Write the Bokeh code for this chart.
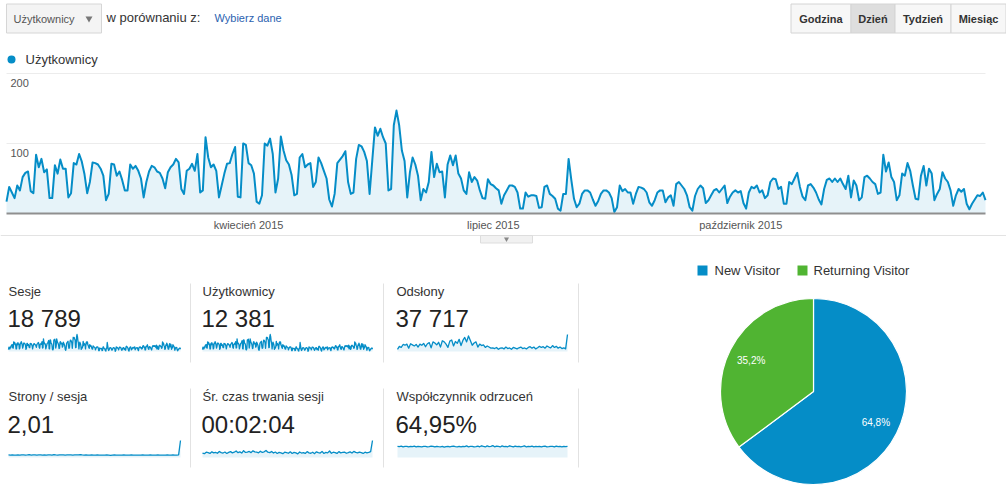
import math
import pandas as pd
from bokeh.plotting import figure
from bokeh.models import Range1d
from bokeh.core.properties import value
from bokeh.embed import file_html
from bokeh.resources import INLINE

# ---------------- data ----------------
start_date = "2015-01-01"
users = [
    17, 38, 30, 22, 40, 33, 52, 58, 60, 32,
    29, 84, 66, 78, 59, 63, 22, 22, 69, 57,
    77, 64, 64, 23, 29, 72, 70, 85, 74, 56,
    29, 45, 73, 72, 70, 64, 54, 19, 28, 71,
    70, 54, 60, 48, 33, 33, 70, 64, 68, 61,
    50, 23, 45, 60, 68, 66, 60, 58, 50, 36,
    59, 66, 70, 78, 73, 35, 28, 61, 64, 71,
    61, 85, 30, 33, 109, 80, 66, 70, 61, 23,
    40, 57, 71, 72, 85, 95, 24, 23, 100, 98,
    72, 69, 57, 17, 14, 26, 100, 97, 107, 85,
    30, 50, 110, 90, 76, 70, 55, 26, 28, 80,
    85, 66, 70, 72, 38, 45, 80, 72, 61, 50,
    20, 10, 28, 72, 77, 82, 89, 45, 28, 30,
    78, 98, 96, 88, 75, 28, 76, 123, 111, 121,
    109, 100, 33, 35, 126, 147, 126, 90, 75, 23,
    59, 80, 70, 54, 19, 35, 30, 45, 88, 52,
    71, 59, 60, 23, 70, 83, 69, 83, 57, 50,
    33, 28, 59, 45, 52, 47, 33, 22, 21, 49,
    42, 40, 36, 33, 14, 26, 33, 40, 40, 38,
    30, 7, 7, 30, 24, 26, 26, 25, 8, 9,
    38, 40, 28, 25, 21, 7, 4, 28, 28, 78,
    48, 21, 9, 14, 28, 33, 33, 30, 20, 11,
    18, 28, 33, 33, 30, 22, 2, 9, 40, 32,
    35, 30, 30, 14, 28, 38, 37, 35, 30, 16,
    11, 19, 30, 33, 33, 16, 23, 26, 11, 42,
    45, 40, 35, 26, 9, 4, 25, 35, 40, 36,
    15, 19, 26, 33, 35, 30, 35, 40, 15, 24,
    30, 33, 30, 32, 15, 7, 30, 38, 36, 40,
    30, 33, 22, 26, 45, 50, 49, 35, 38, 14,
    14, 45, 42, 50, 58, 38, 24, 19, 40, 42,
    37, 30, 20, 13, 35, 48, 50, 45, 50, 45,
    50, 42, 35, 54, 23, 47, 40, 19, 23, 52,
    54, 50, 45, 42, 28, 30, 84, 60, 73, 52,
    45, 19, 26, 57, 54, 72, 61, 40, 21, 20,
    54, 68, 40, 64, 57, 19, 28, 35, 59, 50,
    45, 33, 11, 26, 35, 31, 35, 14, 6, 14,
    20, 26, 25, 30, 19,
]
month_ticks = ["2015-04-01", "2015-07-01", "2015-10-01"]
month_labels = ["kwiecień 2015", "lipiec 2015", "październik 2015"]
y_ticks = [100, 200]
y_tick_labels = ["100", "200"]

card_titles = ["Sesje", "Użytkownicy", "Odsłony",
               "Strony / sesja", "Śr. czas trwania sesji", "Współczynnik odrzuceń"]
card_values = ["18 789", "12 381", "37 717", "2,01", "00:02:04", "64,95%"]

pageviews = [60, 140, 110, 190, 170, 200, 90, 210, 180, 150, 190, 120, 200, 170, 220, 130,
             210, 240, 100, 260, 230, 180, 250, 120, 290, 260, 200, 110, 280, 310, 150, 270,
             220, 330, 160, 300, 380, 260, 420, 300, 170, 230, 260, 120, 200, 160, 180, 110,
             150, 120, 90, 100, 80, 110, 60, 90, 100, 70, 120, 80, 95, 60, 110, 90, 70, 100,
             120, 80, 95, 70, 110, 130, 90, 120, 70, 100, 140, 110, 130, 90, 150, 120, 100,
             160, 110, 140, 90, 120, 80, 100, 70, 460]
pages_per_session = [2.1, 2.0, 2.2, 2.0, 1.9, 2.1, 2.0, 2.2, 2.1, 2.0, 2.1, 2.3, 2.0, 2.1, 2.2,
                     2.0, 2.1, 2.2, 2.0, 2.1, 2.0, 2.2, 2.1, 2.0, 2.3, 2.1, 2.0, 2.2, 2.1, 2.2,
                     2.0, 2.1, 2.2, 2.1, 2.0, 2.1, 2.2, 2.1, 2.3, 2.1, 2.0, 2.1, 1.9, 2.0, 2.1,
                     1.9, 2.0, 2.1, 1.9, 2.0, 2.0, 1.9, 2.1, 2.0, 1.8, 2.0, 2.1, 1.9, 2.0, 1.9,
                     2.0, 2.1, 1.9, 2.0, 1.9, 2.1, 2.0, 1.9, 2.0, 2.0, 1.9, 2.1, 2.0, 1.9, 2.0,
                     2.1, 2.0, 1.9, 2.0, 2.1, 2.0, 1.9, 2.0, 2.0, 2.1, 1.9, 2.0, 2.1, 2.0, 1.9,
                     2.2, 14.0]
session_duration = [110, 95, 130, 120, 100, 140, 115, 125, 105, 150, 120, 110, 135, 100, 125,
                    145, 115, 130, 160, 120, 140, 110, 170, 125, 135, 150, 120, 165, 140, 130,
                    115, 155, 125, 140, 175, 130, 120, 150, 110, 135, 100, 125, 115, 95, 130,
                    120, 105, 140, 100, 125, 115, 90, 135, 110, 120, 100, 145, 115, 105, 130,
                    95, 140, 120, 110, 150, 100, 125, 115, 160, 105, 130, 120, 100, 145, 115,
                    125, 135, 105, 120, 140, 110, 150, 125, 115, 135, 120, 100, 130, 115, 125,
                    145, 420]
bounce_rate = [66, 64, 67, 63, 65, 66, 62, 65, 64, 67, 63, 66, 64, 62, 65, 66, 63, 64, 67, 65,
               62, 66, 64, 63, 65, 61, 64, 66, 63, 65, 67, 64, 62, 65, 63, 66, 64, 68, 63, 65,
               66, 62, 64, 67, 63, 69, 65, 62, 68, 64, 66, 70, 63, 67, 65, 62, 68, 64, 66, 63,
               69, 65, 62, 67, 64, 66, 63, 65, 68, 62, 66, 64, 67, 63, 65, 64, 66, 62, 65, 67,
               63, 64, 66, 65, 62, 67, 64, 65, 63, 66, 64, 66]

visitor_types = ["New Visitor", "Returning Visitor"]
visitor_share = [64.8, 35.2]

# ---------------- styling ----------------
BLUE = "#058dc7"
GREEN = "#50b432"
FONT = value("Liberation Sans")
W, H = 1006, 492
PX0, PY0 = 0, 0           # page offset of the canvas
PX1, PY1 = PX0 + W, PY0 + H

p = figure(width=W, height=H, x_range=Range1d(PX0, PX1), y_range=Range1d(PY1, PY0),
           output_backend="svg", toolbar_location=None, min_border=0,
           x_axis_type=None, y_axis_type=None, outline_line_color=None,
           background_fill_color="white", border_fill_color="white")
p.grid.visible = False


def txt(x, y, s, size="13px", color="#333333", align="left", style="normal", **kw):
    p.text(x=[x], y=[y], text=[s], text_font=FONT, text_font_size=size,
           text_color=color, text_align=align, text_baseline="middle",
           text_font_style=style, **kw)


# ---------------- header ----------------
p.quad(left=[6], right=[101], top=[3.5], bottom=[32.5], fill_color="#f4f4f4",
       line_color="#d6d6d6", line_width=1)
txt(13, 18, "Użytkownicy", size="11px", color="#555555")
p.scatter(x=[88.5], y=[18], marker="inverted_triangle", size=7,
          fill_color="#777777", line_color=None)
txt(106, 17, "w porównaniu z:", size="13px", color="#333333")
txt(214, 17, "Wybierz dane", size="11px", color="#2c62b0")

btn_labels = ["Godzina", "Dzień", "Tydzień", "Miesiąc"]
btn_left = [790.5, 850.5, 894.5, 950.5]
btn_right = [850.5, 894.5, 950.5, 1005.5]
btn_fill = ["#f7f7f7", "#dedede", "#f7f7f7", "#f7f7f7"]
p.quad(left=btn_left, right=btn_right, top=[3.5] * 4, bottom=[32.5] * 4,
       fill_color=btn_fill, line_color="#d4d4d4", line_width=1)
p.text(x=[(a + b) / 2 for a, b in zip(btn_left, btn_right)], y=[18] * 4, text=btn_labels,
       text_font=FONT, text_font_size="11px", text_font_style="bold",
       text_color="#333333", text_align="center", text_baseline="middle")

p.scatter(x=[11], y=[59], marker="circle", size=8, fill_color=BLUE, line_color=None)
txt(25, 59, "Użytkownicy", size="13px", color="#333333")

# ---------------- main chart (own scales) ----------------
X_LEFT, X_RIGHT = 6, 985       # page px of first / last day
Y_ZERO, Y_TOP = 213, 73        # page px of 0 and of the top tick
dates = pd.date_range(start_date, periods=len(users), freq="D")
t0 = dates[0].value / 1e6
t1 = dates[-1].value / 1e6
ms_per_px = (t1 - t0) / (X_RIGHT - X_LEFT)
v_per_px = max(y_ticks) / (Y_ZERO - Y_TOP)
p.extra_x_ranges["main"] = Range1d(start=t0 + (PX0 - X_LEFT) * ms_per_px,
                                   end=t0 + (PX1 - X_LEFT) * ms_per_px)
p.extra_y_ranges["main"] = Range1d(start=(Y_ZERO - PY1) * v_per_px,
                                   end=(Y_ZERO - PY0) * v_per_px)
M = dict(x_range_name="main", y_range_name="main")

p.segment(x0=[t0] * len(y_ticks), x1=[t1] * len(y_ticks), y0=y_ticks, y1=y_ticks,
          line_color="#ececec", line_width=1, **M)
p.varea(x=dates, y1=[0] * len(users), y2=users, fill_color=BLUE, fill_alpha=0.1, **M)
p.line(x=dates, y=users, line_color=BLUE, line_width=2, line_join="round", **M)
p.segment(x0=[t0], x1=[t1], y0=[0], y1=[0], line_color="#8f8f8f", line_width=2, **M)
p.text(x=[t0] * len(y_ticks), y=y_ticks, text=y_tick_labels, x_offset=4, y_offset=9,
       text_font=FONT, text_font_size="11px", text_color="#555555",
       text_align="left", text_baseline="middle", **M)
p.text(x=pd.to_datetime(month_ticks), y=[0] * len(month_ticks), text=month_labels,
       y_offset=11, text_font=FONT, text_font_size="11px", text_color="#555555",
       text_align="center", text_baseline="middle", **M)

# separator + collapse tab
p.segment(x0=[PX0], x1=[PX1], y0=[235], y1=[235], line_color="#e3e3e3", line_width=1)
p.quad(left=[480], right=[532], top=[235], bottom=[242.5], fill_color="#f1f1f1",
       line_color="#dddddd", line_width=1)
p.scatter(x=[506], y=[238.5], marker="inverted_triangle", size=5,
          fill_color="#888888", line_color=None)

# ---------------- scorecards ----------------
card_text_x = [8, 202, 396]
title_y = [291, 396]
value_y = [318, 424]
spark_x = [(8, 180), (202, 372), (397, 567)]
spark_y = [(351, 334), (457, 440)]   # (baseline px, top px)
sep_x = [190, 383, 578]
sep_y = [(283, 362), (388, 467)]

spark_series = [users, users, pageviews, pages_per_session, session_duration, bounce_rate]
spark_max = [max(users), max(users), max(pageviews), max(pages_per_session),
             max(session_duration), 100]

for r in range(2):
    p.segment(x0=sep_x, x1=sep_x, y0=[sep_y[r][0]] * 3, y1=[sep_y[r][1]] * 3,
              line_color="#e2e2e2", line_width=1)
    for c in range(3):
        k = r * 3 + c
        txt(card_text_x[c], title_y[r], card_titles[k], size="13px", color="#333333")
        txt(card_text_x[c] - 1, value_y[r], card_values[k], size="24px", color="#222222")
        vals = spark_series[k]
        n = len(vals)
        xa, xb = spark_x[c]
        yb, yt = spark_y[r]
        sx = (xb - xa) / (n - 1)
        sy = (yb - yt) / spark_max[k]
        name = f"s{k}"
        p.extra_x_ranges[name] = Range1d(start=(PX0 - xa) / sx, end=(PX1 - xa) / sx)
        p.extra_y_ranges[name] = Range1d(start=(yb - PY1) / sy, end=(yb - PY0) / sy)
        idx = list(range(n))
        p.varea(x=idx, y1=[0] * n, y2=vals, fill_color=BLUE, fill_alpha=0.1,
                x_range_name=name, y_range_name=name)
        p.line(x=idx, y=vals, line_color=BLUE, line_width=1.3, line_join="round",
               x_range_name=name, y_range_name=name)

# ---------------- pie ----------------
colors = [BLUE, GREEN]
leg_sq_x = [702, 802]
leg_txt_x = [714, 813]
p.rect(x=leg_sq_x, y=[270, 270], width=10, height=10, fill_color=colors, line_color=None)
p.text(x=leg_txt_x, y=[270, 270], text=visitor_types, text_font=FONT, text_font_size="13px",
       text_color="#333333", text_align="left", text_baseline="middle")

CX, CY, R = 813, 391, 93
total = sum(visitor_share)
starts, ends, mids = [], [], []
acc = 0.0
for s in visitor_share:
    a_end = math.pi / 2 - acc / total * 2 * math.pi
    acc += s
    a_start = math.pi / 2 - acc / total * 2 * math.pi
    starts.append(a_start)
    ends.append(a_end)
    mids.append((a_start + a_end) / 2)
p.wedge(x=[CX] * 2, y=[CY] * 2, radius=R, start_angle=starts, end_angle=ends,
        fill_color=colors, line_color="white", line_width=1.2)
lab_r = 0.75 * R
p.text(x=[CX + lab_r * math.cos(m) for m in mids],
       y=[CY - lab_r * math.sin(m) for m in mids],
       text=[f"{s:.1f}".replace(".", ",") + "%" for s in visitor_share],
       text_font=FONT, text_font_size="10px", text_color="white",
       text_align="center", text_baseline="middle")

open("out.html", "w").write(file_html(p, INLINE))
